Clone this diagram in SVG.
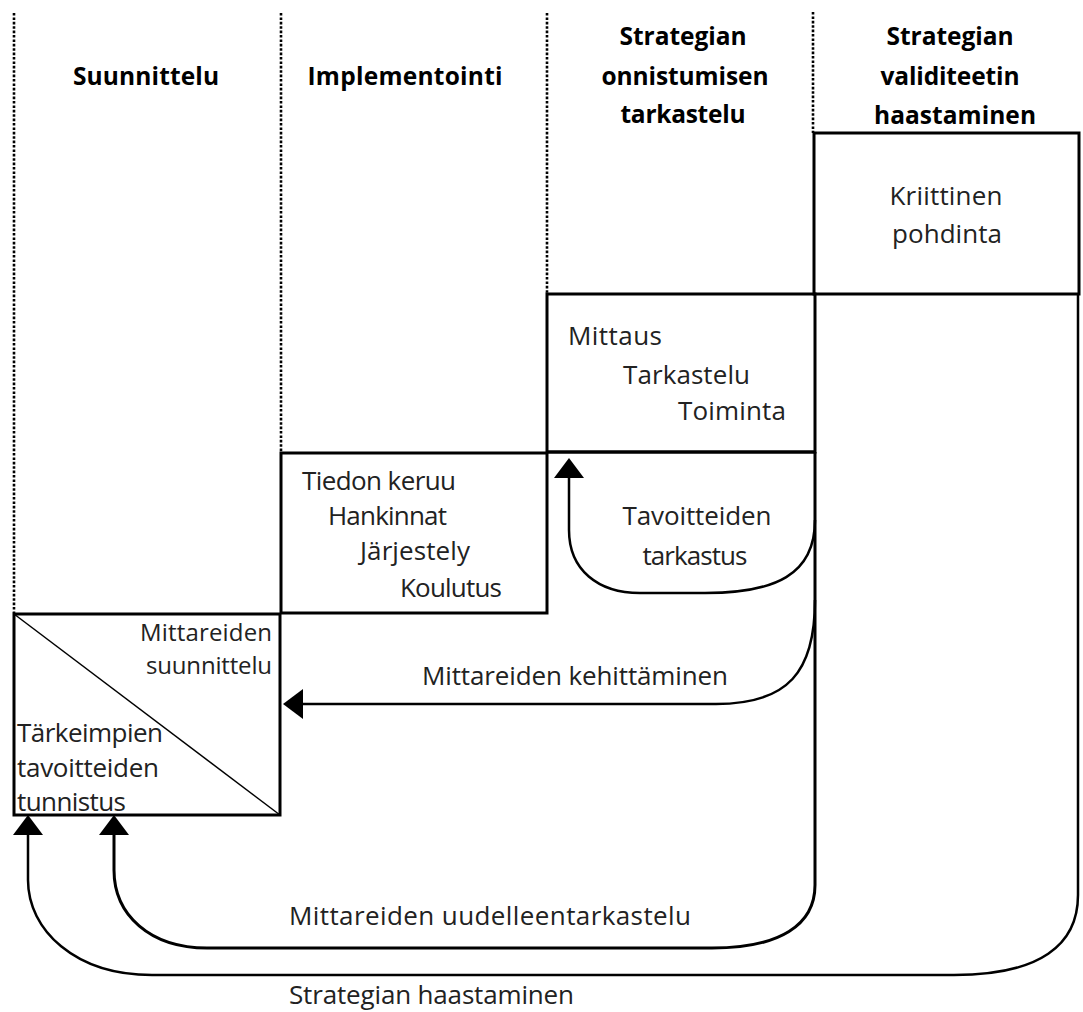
<svg xmlns="http://www.w3.org/2000/svg" width="1083" height="1012" viewBox="0 0 1083 1012">
  <defs>
    <marker id="arrow" markerUnits="userSpaceOnUse" markerWidth="20" markerHeight="30" viewBox="0 0 20 30" refX="0" refY="15" orient="auto">
      <path d="M0,0 L20,15 L0,30 z" fill="#000"/>
    </marker>
    <style>
      .head { font-family: "Open Sans", "Liberation Sans", sans-serif; font-weight: bold; font-size: 24.5px; fill: #000; text-anchor: middle; }
      .txt { font-family: "Open Sans", "Liberation Sans", sans-serif; font-size: 26px; fill: #222; }
      .tight { font-size: 24px; }
      .lane { stroke: #000; stroke-width: 2.6; stroke-dasharray: 2.6 1.8; fill: none; }
      .box { stroke: #000; stroke-width: 3; fill: none; }
      .flow { stroke: #000; stroke-width: 2.5; fill: none; }
    </style>
  </defs>
  <rect width="1083" height="1012" fill="#fff"/>

  <!-- swimlane separators -->
  <g id="lanes">
    <line class="lane" x1="14" y1="13" x2="14" y2="613"/>
    <line class="lane" x1="281" y1="13" x2="281" y2="452"/>
    <line class="lane" x1="547" y1="13" x2="547" y2="294"/>
    <line class="lane" x1="813" y1="12" x2="813" y2="133"/>
  </g>

  <!-- column headings -->
  <g id="headings">
    <text class="head" x="146" y="85" textLength="146">Suunnittelu</text>
    <text class="head" x="405" y="85" textLength="195">Implementointi</text>
    <text class="head" x="683" y="45" textLength="127">Strategian</text>
    <text class="head" x="685" y="85" textLength="167">onnistumisen</text>
    <text class="head" x="683" y="123" textLength="125">tarkastelu</text>
    <text class="head" x="950" y="45" textLength="127">Strategian</text>
    <text class="head" x="950" y="85" textLength="139">validiteetin</text>
    <text class="head" x="955" y="124" textLength="162">haastaminen</text>
  </g>

  <g id="node-suunnittelu">
    <rect class="box" x="14" y="614" width="266" height="201"/>
    <line x1="14" y1="614" x2="280" y2="815" stroke="#000" stroke-width="1.5"/>
    <text class="txt tight" x="272" y="641" text-anchor="end" textLength="132">Mittareiden</text>
    <text class="txt tight" x="272" y="674" text-anchor="end" textLength="126">suunnittelu</text>
    <text class="txt" x="17" y="742" textLength="146">Tärkeimpien</text>
    <text class="txt" x="17" y="777" textLength="142">tavoitteiden</text>
    <text class="txt" x="17" y="811" textLength="109">tunnistus</text>
  </g>

  <g id="node-implementointi">
    <rect class="box" x="281" y="453" width="266" height="160"/>
    <text class="txt" x="302" y="490" textLength="154">Tiedon keruu</text>
    <text class="txt" x="328" y="525" textLength="119">Hankinnat</text>
    <text class="txt" x="360" y="560" textLength="110">Järjestely</text>
    <text class="txt" x="400" y="597" textLength="102">Koulutus</text>
  </g>

  <g id="node-tarkastelu">
    <rect class="box" x="547" y="294" width="268" height="158"/>
    <text class="txt" x="568" y="345" textLength="94">Mittaus</text>
    <text class="txt" x="623" y="384" textLength="127">Tarkastelu</text>
    <text class="txt" x="678" y="420" textLength="108">Toiminta</text>
  </g>

  <g id="node-tavoitteet">
    <line class="box" x1="547" y1="452" x2="815" y2="452"/>
    <text class="txt" x="697" y="525" text-anchor="middle" textLength="149">Tavoitteiden</text>
    <text class="txt" x="695" y="565" text-anchor="middle" textLength="105">tarkastus</text>
  </g>

  <g id="node-pohdinta">
    <rect class="box" x="814" y="133" width="265" height="161"/>
    <text class="txt" x="946" y="205" text-anchor="middle" textLength="113">Kriittinen</text>
    <text class="txt" x="947" y="243" text-anchor="middle" textLength="110">pohdinta</text>
  </g>

  <!-- feedback loops -->
  <g id="connectors">
    <path class="box" d="M815,452 L815,885 C815,925 780,948 712,948 L207,948 C150,948 114,915 114,870 L114,835" marker-end="url(#arrow)"/>
    <path class="flow" d="M815,520 C815,575 775,593 705,593 L640,593 C598,593 569,570 569,530 L569,478" marker-end="url(#arrow)"/>
    <path class="flow" d="M815,600 C815,672 788,704 716,704 L303,704" marker-end="url(#arrow)"/>
    <path class="flow" d="M1078,294 L1078,895 C1078,945 1040,975 954,975 L152,975 C75,975 28,930 28,880 L28,835" marker-end="url(#arrow)"/>
    <text class="txt" x="422" y="685" textLength="306">Mittareiden kehittäminen</text>
    <text class="txt" x="289" y="925" textLength="402">Mittareiden uudelleentarkastelu</text>
    <text class="txt" x="289" y="1004" textLength="285">Strategian haastaminen</text>
  </g>
</svg>
